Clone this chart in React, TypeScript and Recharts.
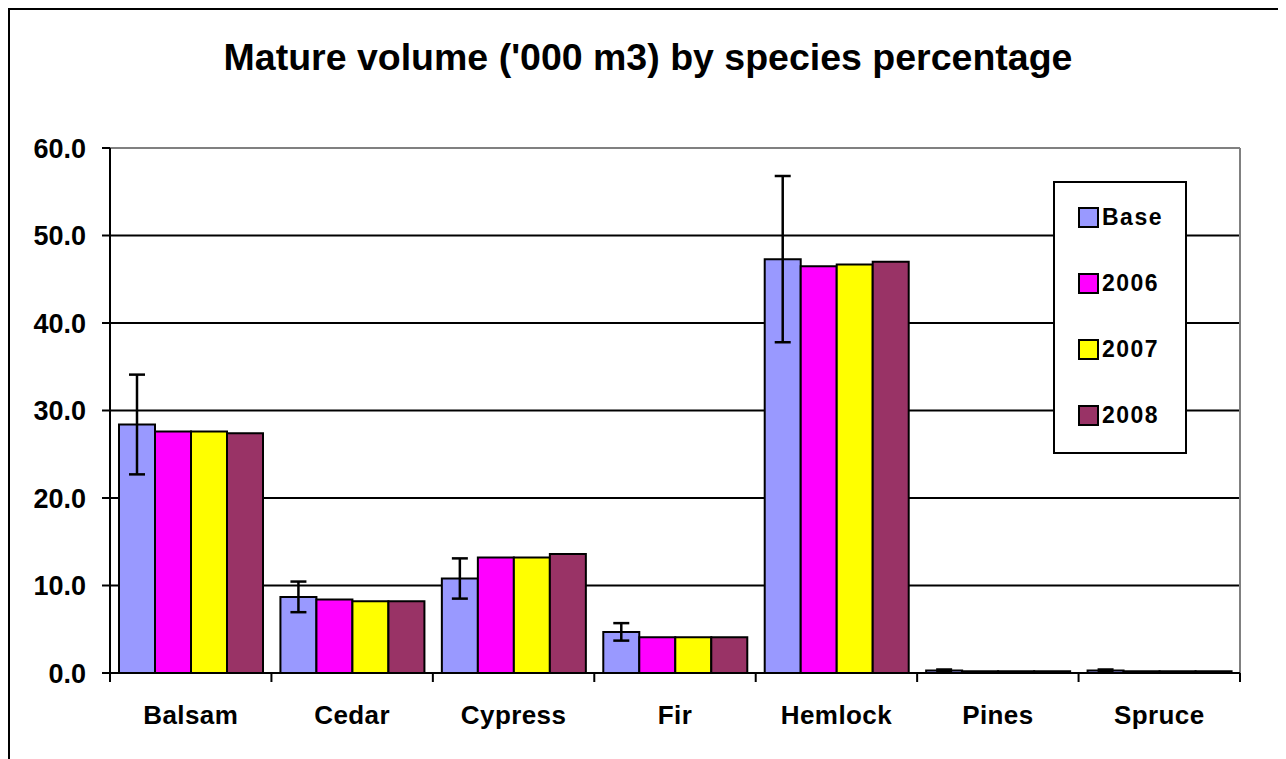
import { BarChart, Bar, XAxis, YAxis, CartesianGrid, ErrorBar, Legend, ReferenceLine } from 'recharts';

const categories = ['Balsam', 'Cedar', 'Cypress', 'Fir', 'Hemlock', 'Pines', 'Spruce'];
const baseValues = [28.4, 8.7, 10.8, 4.7, 47.3, 0.3, 0.3];
const baseError = [5.7, 1.75, 2.3, 1.0, 9.5, 0.1, 0.1];
const values2006 = [27.6, 8.4, 13.2, 4.1, 46.5, 0.2, 0.2];
const values2007 = [27.6, 8.2, 13.2, 4.1, 46.7, 0.2, 0.2];
const values2008 = [27.4, 8.2, 13.6, 4.1, 47.0, 0.2, 0.2];
const yTicks = [0, 10, 20, 30, 40, 50, 60];

const SERIES = [
  { key: 'base', name: 'Base', color: '#9999FF' },
  { key: 'y2006', name: '2006', color: '#FF00FF' },
  { key: 'y2007', name: '2007', color: '#FFFF00' },
  { key: 'y2008', name: '2008', color: '#993366' },
];

const data = categories.map((name, i) => ({
  name,
  base: baseValues[i],
  baseErr: baseError[i],
  y2006: values2006[i],
  y2007: values2007[i],
  y2008: values2008[i],
}));

const FONT = '"Liberation Sans", Arial, sans-serif';
const LABEL_GAP = 33;

// category label plus the tick marks that sit on the band edges
function CategoryTick({ x, y, payload, index, visibleTicksCount, width }: any) {
  const half = payload.offset ?? width / visibleTicksCount / 2;
  const axisY = y - LABEL_GAP;
  return (
    <g>
      <line x1={x - half} x2={x - half} y1={axisY} y2={axisY + 9} stroke="#000" strokeWidth={2} />
      {index === visibleTicksCount - 1 && (
        <line x1={x + half} x2={x + half} y1={axisY} y2={axisY + 9} stroke="#000" strokeWidth={2} />
      )}
      <text
        x={x}
        y={y}
        dy="0.71em"
        textAnchor="middle"
        fill="#000"
        fontSize={26}
        fontWeight="bold"
        fontFamily={FONT}
        letterSpacing={0.4}
      >
        {payload.value}
      </text>
    </g>
  );
}

function LegendBox({ payload }: any) {
  const order = SERIES.map((s) => s.name);
  const items = [...(payload || [])].sort((a: any, b: any) => order.indexOf(a.value) - order.indexOf(b.value));
  return (
    <div
      style={{
        boxSizing: 'border-box',
        width: 134,
        height: 273,
        border: '2px solid #000',
        background: '#fff',
        paddingTop: 1,
        fontFamily: FONT,
      }}
    >
      {items.map((p: any) => (
        <div key={p.value} style={{ height: 66, display: 'flex', alignItems: 'center', paddingLeft: 23 }}>
          <span
            style={{
              display: 'inline-block',
              width: 17,
              height: 17,
              border: '2px solid #000',
              background: p.color,
              marginRight: 3,
            }}
          />
          <span style={{ fontSize: 23, fontWeight: 'bold', letterSpacing: 1.5, lineHeight: '23px' }}>{p.value}</span>
        </div>
      ))}
    </div>
  );
}

export default function App() {
  return (
    <div
      style={{
        position: 'relative',
        width: 1273,
        height: 760,
        borderTop: '2px solid #000',
        borderLeft: '2px solid #000',
        borderRight: '2px solid #000',
        background: '#fff',
        fontFamily: FONT,
      }}
    >
      <div
        style={{
          position: 'absolute',
          left: 0,
          width: 1276,
          top: 29,
          textAlign: 'center',
          fontSize: 37.5,
          lineHeight: '36px',
          fontWeight: 'bold',
        }}
      >
        Mature volume ('000 m3) by species percentage
      </div>
      <BarChart
        width={1273}
        height={748}
        data={data}
        margin={{ top: 138, right: 43, left: 20, bottom: 84 }}
        barCategoryGap={9}
        barGap={0}
      >
        <CartesianGrid vertical={false} stroke="#000" strokeWidth={2} />
        <CartesianGrid
          horizontal={false}
          stroke="#808080"
          strokeWidth={2}
          verticalCoordinatesGenerator={({ offset }: any) => [offset.left + offset.width]}
        />
        <XAxis
          dataKey="name"
          height={1}
          interval={0}
          tickLine={false}
          tickSize={0}
          tickMargin={LABEL_GAP}
          axisLine={{ stroke: '#000', strokeWidth: 2 }}
          tick={<CategoryTick />}
        />
        <YAxis
          width={80}
          domain={[0, 60]}
          ticks={yTicks}
          tickFormatter={(v: number) => v.toFixed(1)}
          axisLine={{ stroke: '#000', strokeWidth: 2 }}
          tickLine={{ stroke: '#000', strokeWidth: 2 }}
          tickSize={8}
          tickMargin={16}
          tick={{ fill: '#000', fontSize: 27, fontWeight: 'bold', fontFamily: FONT }}
        />
        <ReferenceLine y={60} stroke="#808080" strokeWidth={2} />
        <Legend
          layout="horizontal"
          verticalAlign="middle"
          align="center"
          content={<LegendBox />}
          wrapperStyle={{ position: 'absolute', left: 1043, top: 171, width: 134, height: 273 }}
        />
        {SERIES.map((s) => (
          <Bar key={s.key} dataKey={s.key} name={s.name} fill={s.color} stroke="#000" strokeWidth={2} isAnimationActive={false}>
            {s.key === 'base' && <ErrorBar dataKey="baseErr" width={8} stroke="#000" strokeWidth={2.5} direction="y" />}
          </Bar>
        ))}
      </BarChart>
    </div>
  );
}
